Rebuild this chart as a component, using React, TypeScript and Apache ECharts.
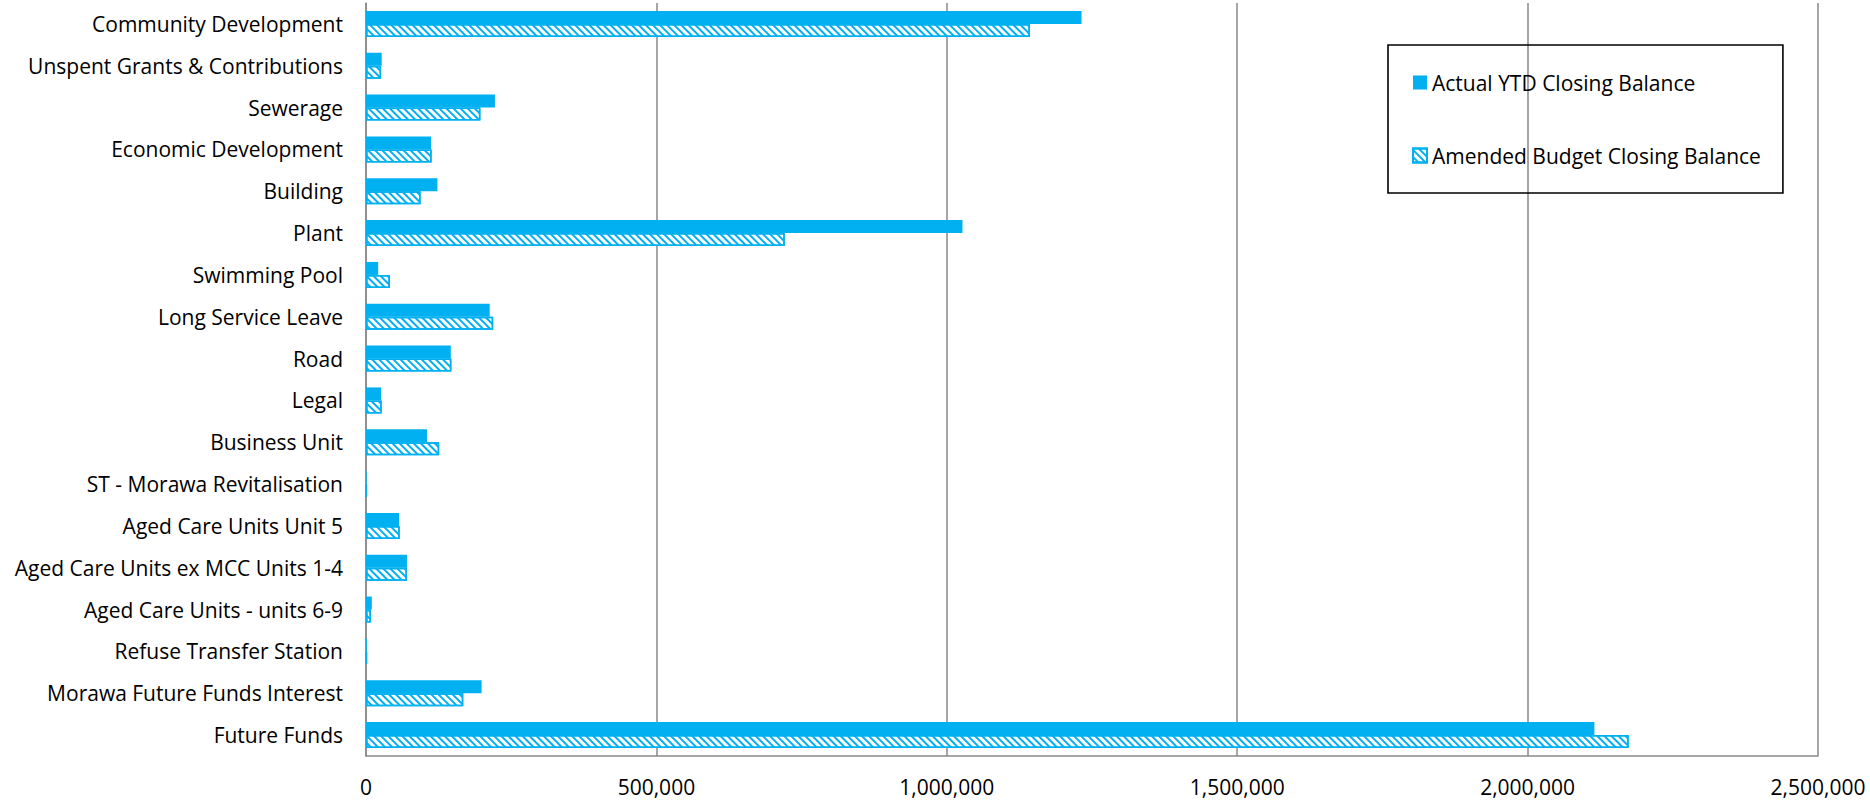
import React, { useEffect, useRef } from "react";
import * as echarts from "echarts";

const categories = [
  "Community Development",
  "Unspent Grants & Contributions",
  "Sewerage",
  "Economic Development",
  "Building",
  "Plant",
  "Swimming Pool",
  "Long Service Leave",
  "Road",
  "Legal",
  "Business Unit",
  "ST - Morawa Revitalisation",
  "Aged Care Units Unit 5",
  "Aged Care Units ex MCC Units 1-4",
  "Aged Care Units - units 6-9",
  "Refuse Transfer Station",
  "Morawa Future Funds Interest",
  "Future Funds",
];

const actualYTD = [
  1232000, 27000, 222000, 112000, 123000, 1027000, 21000, 213000, 146000,
  26000, 105000, 1200, 57000, 70500, 10000, 1500, 199000, 2115000,
];

const amendedBudget = [
  1143000, 26000, 197000, 113000, 94000, 721000, 41000, 219000, 147000,
  27000, 126000, 1200, 58000, 70500, 8500, 1500, 167500, 2174000,
];

const xTicks = { min: 0, max: 2500000, interval: 500000 };

const BLUE = "#00B0F0";
const GRID = "#898989";
const FONT = "'Open Sans', sans-serif";
const FS = 21;

export default function App() {
  const ref = useRef<HTMLDivElement>(null);
  useEffect(() => {
    if (!ref.current) return;
    const chart = echarts.init(ref.current, undefined, { renderer: "svg" });
    chart.setOption({
      animation: false,
      backgroundColor: "#ffffff",
      textStyle: { fontFamily: FONT },
      grid: {
        left: 366,
        right: 52,
        top: 3,
        bottom: 44,
        containLabel: false,
        outerBoundsMode: "none",
      },
      legend: {
        orient: "vertical",
        left: 1388,
        top: 45,
        padding: [27, 22, 27, 24],
        itemGap: 52,
        itemWidth: 14,
        itemHeight: 14,
        borderColor: "#000000",
        borderWidth: 1.6,
        textStyle: { fontFamily: FONT, fontSize: FS, color: "#000000" },
        data: [
          { name: "Actual YTD Closing Balance", icon: "rect" },
          { name: "Amended Budget Closing Balance", icon: "rect" },
        ],
      },
      xAxis: {
        type: "value",
        min: xTicks.min,
        max: xTicks.max,
        interval: xTicks.interval,
        axisLine: { show: true, lineStyle: { color: GRID, width: 1.5 } },
        axisTick: { show: false },
        splitLine: { show: true, lineStyle: { color: GRID, width: 1.5 } },
        axisLabel: {
          color: "#000000",
          fontFamily: FONT,
          fontSize: FS,
          margin: 20,
          formatter: (v: number) => v.toLocaleString("en-US"),
        },
      },
      yAxis: {
        type: "category",
        data: categories,
        inverse: true,
        axisLine: { show: true, lineStyle: { color: GRID, width: 1.5 } },
        axisTick: { show: false },
        axisLabel: {
          color: "#000000",
          fontFamily: FONT,
          fontSize: FS,
          margin: 23,
        },
      },
      series: [
        {
          name: "Actual YTD Closing Balance",
          type: "bar",
          data: actualYTD,
          barWidth: 13,
          barGap: "0%",
          itemStyle: { color: BLUE },
        },
        {
          name: "Amended Budget Closing Balance",
          type: "bar",
          data: amendedBudget,
          barWidth: 13,
          barGap: "0%",
          itemStyle: {
            color: "#ffffff",
            borderColor: BLUE,
            borderWidth: 1.5,
            decal: {
              symbol: "rect",
              symbolSize: 1,
              color: BLUE,
              dashArrayX: [1, 0],
              dashArrayY: [2, 2.5],
              rotation: Math.PI / 4,
            },
          },
        },
      ],
    });
    return () => chart.dispose();
  }, []);
  return (
    <div
      ref={ref}
      style={{ position: "fixed", left: 0, top: 0, width: 1870, height: 800 }}
    />
  );
}
